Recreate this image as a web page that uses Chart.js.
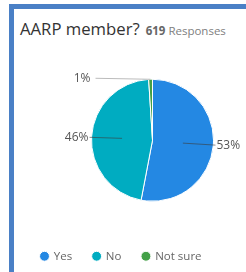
<!DOCTYPE html>
<html>
<head>
<meta charset="utf-8">
<script src="https://cdn.jsdelivr.net/npm/chart.js@4"></script>
<style>
  body { margin: 0; background: #fff; width: 246px; height: 272px; overflow: hidden; font-family: "Open Sans", sans-serif; }
  .card { position: absolute; left: 9px; top: 4px; width: 260px; height: 265px; border-left: 5px solid #4a80c6; border-top: 5px solid #4a80c6; border-bottom: 1px solid #c9dcef; }
  .title { position: absolute; left: 6px; top: 8px; white-space: nowrap; color: #333; font-size: 16.7px; }
  .title .count { font-size: 11.5px; color: #808080; margin-left: 6px; }
  .title .count b { font-weight: 700; color: #666; }
  .wrap { position: absolute; left: 5.5px; top: 36px; width: 265px; height: 227px; }
</style>
</head>
<body>
<div class="card">
  <div class="title">AARP member?<span class="count"><b>619</b> Responses</span></div>
  <div class="wrap"><canvas id="aarpPie"></canvas></div>
</div>
<script>
// chart data
const answers = ['Yes', 'No', 'Not sure'];
const shares = [53, 46, 1];
const sliceColors = ['#2488e3', '#00acc1', '#43a047'];

// draws the % labels with the little leader lines
const pieLabels = {
    id: 'pieLabels',
    afterDatasetsDraw(chart) {
        const ctx = chart.ctx;
        const meta = chart.getDatasetMeta(0);
        ctx.save();
        ctx.font = '12px "Open Sans", sans-serif';
        ctx.textBaseline = 'middle';
        meta.data.forEach((arc, i) => {
            const { x, y, startAngle, endAngle, outerRadius } = arc.getProps(['x', 'y', 'startAngle', 'endAngle', 'outerRadius'], true);
            const mid = (startAngle + endAngle) / 2;
            const rIn = shares[i] < 5 ? outerRadius : outerRadius * 0.5;
            const px = x + Math.cos(mid) * rIn;
            const py = y + Math.sin(mid) * rIn;
            const right = Math.cos(mid) > 0;
            let ex = right ? x + outerRadius + 2 : x - outerRadius - 2;
            if (shares[i] < 5) ex = x - outerRadius + 4;
            ctx.strokeStyle = shares[i] < 5 ? '#bbb' : 'rgba(60,60,60,0.6)';
            ctx.lineWidth = 1;
            ctx.beginPath();
            ctx.moveTo(px, py);
            ctx.lineTo(ex, py + (right ? 2 : -1));
            ctx.stroke();
            ctx.fillStyle = '#555';
            ctx.textAlign = right ? 'left' : 'right';
            const tx = right ? ex + 1 : (shares[i] < 5 ? ex - 5 : ex - 1);
            ctx.fillText(shares[i] + '%', tx, py + (right ? 2 : -1));
        });
        ctx.restore();
    }
};

const ctx = document.getElementById('aarpPie').getContext('2d');
new Chart(ctx, {
    type: 'pie',
    data: {
        labels: answers,
        datasets: [{
            data: shares,
            backgroundColor: sliceColors,
            borderColor: '#fff',
            borderWidth: 1
        }]
    },
    options: {
        responsive: true,
        maintainAspectRatio: false,
        animation: false,
        radius: 61,
        layout: { padding: { left: 0, top: 6, right: 0, bottom: 0 } },
        plugins: {
            tooltip: { enabled: false },
            legend: {
                position: 'bottom',
                align: 'start',
                labels: {
                    usePointStyle: true,
                    pointStyle: 'circle',
                    boxWidth: 7,
                    boxHeight: 7,
                    padding: 21,
                    color: '#666',
                    font: { size: 11.5, family: '"Open Sans", sans-serif' }
                }
            }
        }
    },
    plugins: [pieLabels]
});
</script>
</body>
</html>
